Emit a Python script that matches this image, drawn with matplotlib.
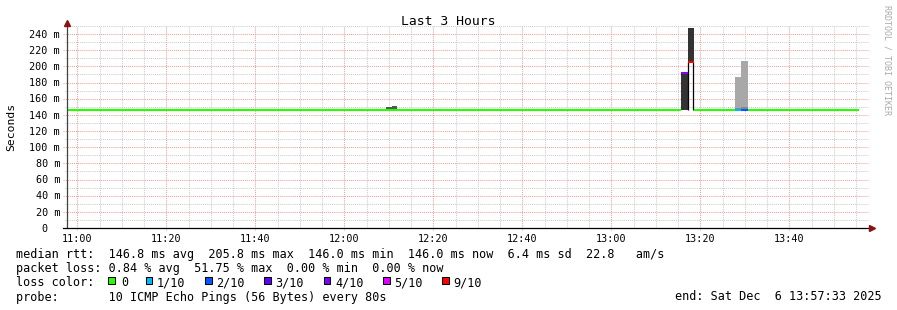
import matplotlib
matplotlib.use('Agg')
import matplotlib.pyplot as plt
import matplotlib.transforms as mtransforms
from matplotlib.patches import Rectangle

W, H, DPI = 897, 310, 100
MONO = 'DejaVu Sans Mono'

# ---------------- data ----------------
# time: minutes after 11:00, latency: ms
time_range = [-2.35, 177.65]
x_tick_minutes = [0, 20, 40, 60, 80, 100, 120, 140, 160]
x_tick_labels = ['11:00', '11:20', '11:40', '12:00', '12:20', '12:40',
                 '13:00', '13:20', '13:40']
y_tick_values = [0, 20, 40, 60, 80, 100, 120, 140, 160, 180, 200, 220, 240]
y_tick_labels = ['0', '20 m', '40 m', '60 m', '80 m', '100 m', '120 m',
                 '140 m', '160 m', '180 m', '200 m', '220 m', '240 m']

# median rtt, drawn as steps
median_start = [-2.35, 135.7, 137.1, 138.5, 147.8, 149.2, 150.6]
median_end = [135.7, 137.1, 138.5, 147.8, 149.2, 150.6, 175.7]
median_ms = [146.0, 192.0, 205.8, 146.0, 146.3, 146.3, 146.0]
median_loss = ['0', '4/10', '9/10', '0', '1/10', '2/10', '0']

# smoke (ping spread)
smoke_start = [69.4, 70.6, 135.7, 137.1, 147.8, 147.8, 149.2, 149.2]
smoke_end = [70.6, 71.9, 137.1, 138.5, 149.2, 149.2, 150.6, 150.6]
smoke_low = [146.0, 146.0, 146.0, 205.8, 146.0, 149.0, 146.0, 149.5]
smoke_high = [149.5, 151.0, 192.0, 247.5, 149.0, 187.5, 149.5, 207.0]
smoke_gray = ['#555555', '#555555', '#333333', '#333333',
              '#888888', '#a8a8a8', '#888888', '#a8a8a8']

loss_labels = ['0', '1/10', '2/10', '3/10', '4/10', '5/10', '9/10']
loss_colors = ['#26ff00', '#00b8ff', '#0059ff', '#5e00ff', '#7e00ff',
               '#dd00ff', '#ff0000']

title = 'Last 3 Hours'
y_label = 'Seconds'
line_rtt = ('median rtt:  146.8 ms avg  205.8 ms max  146.0 ms min  '
            '146.0 ms now  6.4 ms sd  22.8   am/s')
line_loss = 'packet loss: 0.84 % avg  51.75 % max  0.00 % min  0.00 % now'
line_color = 'loss color:'
line_probe = 'probe:       10 ICMP Echo Pings (56 Bytes) every 80s'
line_end = 'end: Sat Dec  6 13:57:33 2025'
watermark = 'RRDTOOL / TOBI OETIKER'

# ---------------- figure ----------------
fig = plt.figure(figsize=(W / DPI, H / DPI), dpi=DPI, facecolor='white')
PX = mtransforms.Affine2D().scale(1 / W, -1 / H).translate(0, 1) + fig.transFigure

ax_l, ax_r, ax_t, ax_b = 67, 868, 26, 228
ax = fig.add_axes([ax_l / W, 1 - ax_b / H, (ax_r - ax_l) / W, (ax_b - ax_t) / H])
ax.set_xlim(*time_range)
ax.set_ylim(0, 250)
ax.axis('off')

px_x = (time_range[1] - time_range[0]) / (ax_r - ax_l)
px_y = 250 / (ax_b - ax_t)
dot = (0, (1, 1))
MAJ = '#f2a0a0'
MIN = '#cdcdcd'

# vertical grid
m = 0
while m <= time_range[1]:
    major = m % 20 == 0
    ax.plot([m, m], [-2 * px_y if major else 0, 250], color=MAJ if major else MIN,
            lw=0.75, ls=dot, clip_on=False, zorder=1)
    m += 5
# horizontal grid
for v in range(10, 251, 10):
    major = v % 20 == 0
    ax.plot([time_range[0] - (4 if major else 2) * px_x, time_range[1]], [v, v],
            color=MAJ if major else MIN, lw=0.75, ls=dot, clip_on=False, zorder=1)

# smoke
for s, e, lo, hi, g in zip(smoke_start, smoke_end, smoke_low, smoke_high, smoke_gray):
    ax.bar(s, hi - lo, width=e - s, bottom=lo, align='edge', color=g, lw=0, zorder=2)

# median
cmap = dict(zip(loss_labels, loss_colors))
for s, e, v, l in zip(median_start, median_end, median_ms, median_loss):
    ax.plot([s, e], [v, v], color=cmap[l], lw=1.5, solid_capstyle='butt', zorder=4)
    if l == '9/10':
        ax.vlines([s + 0.1, e - 0.2], median_ms[0], v, colors='black', lw=0.9, zorder=3)

# axes lines and arrows
ax.plot([time_range[0], time_range[0]], [0, 250 + 3 * px_y], color='#404040', lw=0.9,
        clip_on=False, zorder=5)
ax.plot([time_range[0] - 4 * px_x, time_range[1] + 2 * px_x], [0, 0], color='black',
        lw=0.9, clip_on=False, zorder=5)
ax.plot([time_range[0]], [250 + 3 * px_y], marker='^', color='#8b1010', ms=4,
        clip_on=False, zorder=6)
ax.plot([time_range[1] + 3.5 * px_x], [0], marker='>', color='#8b1010', ms=4,
        clip_on=False, zorder=6)

# tick labels
ty = mtransforms.blended_transform_factory(fig.transFigure, ax.transData) + \
    mtransforms.ScaledTranslation(0, -3.7 / DPI, fig.dpi_scale_trans)
cw = 6.05
for v, lab in zip(y_tick_values, y_tick_labels):
    xr = 60 if lab.endswith('m') else 60 - 2 * cw
    fig.text(xr / W, v, lab, transform=ty, ha='right', va='baseline',
             family=MONO, fontsize=7.3, color='black')
tx = mtransforms.blended_transform_factory(ax.transData, fig.transFigure)
for mm, lab in zip(x_tick_minutes, x_tick_labels):
    fig.text(mm, 1 - 241.5 / H, lab, transform=tx, ha='center', va='baseline',
             family=MONO, fontsize=7.3, color='black')

# title, y label, watermark
fig.text(448.5, 25, title, transform=PX, ha='center', va='baseline',
         family=MONO, fontsize=9.4, color='black')
fig.text(11, 127, y_label, transform=PX, ha='center', va='center', rotation=90,
         family=MONO, fontsize=8.2, color='black')
fig.text(887.5, 60, watermark, transform=PX, ha='center', va='center', rotation=270,
         family=MONO, fontsize=6, color='#aaaaaa')

# legend block
LF = 8.5
fig.text(16, 258, line_rtt, transform=PX, family=MONO, fontsize=LF, va='baseline')
fig.text(16, 272, line_loss, transform=PX, family=MONO, fontsize=LF, va='baseline')
fig.text(16, 286.5, line_color, transform=PX, family=MONO, fontsize=LF, va='baseline')
fig.text(16, 300.5, line_probe, transform=PX, family=MONO, fontsize=LF, va='baseline')
fig.text(882, 300.5, line_end, transform=PX, family=MONO, fontsize=LF, va='baseline',
         ha='right')

sq_x = [108.3, 145.7, 205.0, 264.3, 323.6, 382.9, 442.2]
for i, (lab, col) in enumerate(zip(loss_labels, loss_colors)):
    fig.patches.append(Rectangle((sq_x[i], 277), 6.7, 6.7, transform=PX,
                                 facecolor=col, edgecolor='black', lw=0.75))
    fig.text(sq_x[i] + (13.4 if i == 0 else 11.3), 286.5, lab, transform=PX,
             family=MONO, fontsize=LF, va='baseline')

fig.savefig('out.png', dpi=DPI, facecolor='white')
